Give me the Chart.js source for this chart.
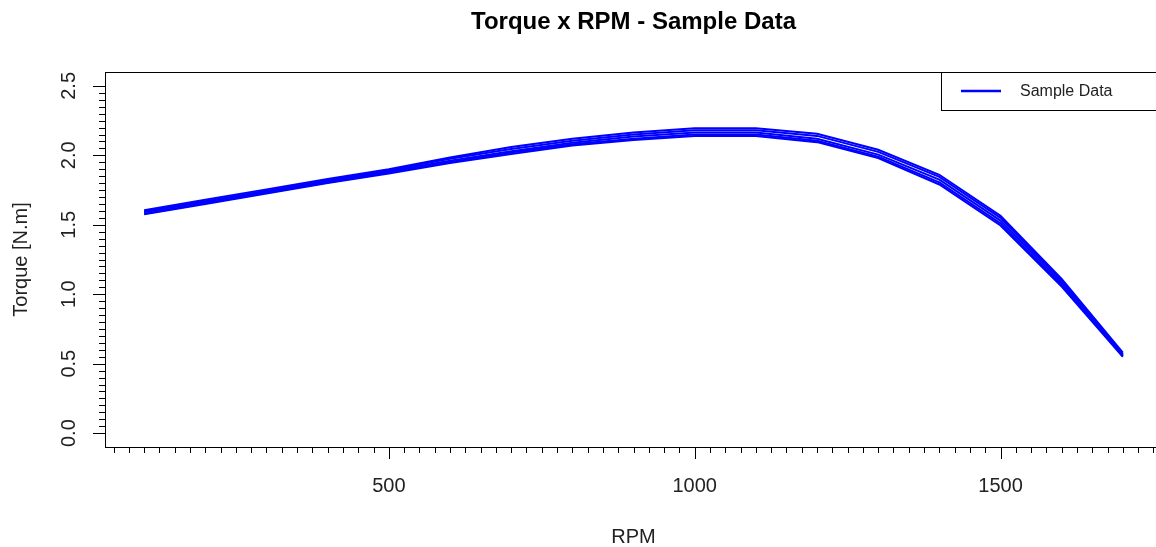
<!DOCTYPE html>
<html>
<head>
<meta charset="utf-8">
<script src="https://cdn.jsdelivr.net/npm/chart.js@4/dist/chart.umd.min.js"></script>
<style>
  html, body { margin: 0; padding: 0; background: #fff; overflow: hidden; }
  #wrap { width: 1156px; height: 547px; overflow: hidden; }
</style>
</head>
<body>
<div id="wrap"><canvas id="torqueChart" width="1170" height="547"></canvas></div>
<script>
const rpm = [100, 200, 300, 400, 500, 600, 700, 800, 900, 1000, 1100, 1200, 1300, 1400, 1500, 1600, 1700];
const run1 = [1.605, 1.680, 1.755, 1.830, 1.900, 1.985, 2.060, 2.120, 2.165, 2.195, 2.195, 2.155, 2.040, 1.860, 1.565, 1.110, 0.580];
const run2 = [1.595, 1.670, 1.745, 1.820, 1.893, 1.975, 2.045, 2.105, 2.150, 2.180, 2.180, 2.140, 2.025, 1.845, 1.550, 1.095, 0.570];
const run3 = [1.590, 1.665, 1.740, 1.812, 1.886, 1.962, 2.030, 2.090, 2.135, 2.165, 2.165, 2.120, 2.005, 1.825, 1.530, 1.080, 0.560];
const run4 = [1.580, 1.655, 1.730, 1.805, 1.878, 1.952, 2.020, 2.080, 2.120, 2.150, 2.150, 2.105, 1.990, 1.805, 1.510, 1.065, 0.555];
const run5 = [1.575, 1.650, 1.725, 1.800, 1.870, 1.945, 2.010, 2.070, 2.110, 2.140, 2.140, 2.095, 1.980, 1.790, 1.495, 1.055, 0.550];
const runs = [run1, run2, run3, run4, run5];

const xMajorTicks = [500, 1000, 1500];
const yMajorTicks = [0, 0.5, 1, 1.5, 2, 2.5];
const xMinorTicks = [];
for (let v = 50; v <= 1750; v += 25) xMinorTicks.push(v);
const yMinorTicks = [];
for (let i = 0; i <= 50; i++) yMinorTicks.push(i * 0.05);

const FONT = '"Liberation Sans", Arial, sans-serif';

// R style box, axes, labels and legend
const rAxes = {
    id: "rAxes",
    afterDraw(chart) {
        const ctx = chart.ctx, a = chart.chartArea;
        const xs = chart.scales.x, ys = chart.scales.y;
        ctx.save();
        ctx.strokeStyle = "#000";
        ctx.fillStyle = "#000";
        ctx.lineWidth = 1;
        ctx.strokeRect(a.left + 0.5, a.top + 0.5, a.right - a.left, a.bottom - a.top);

        // x ticks
        ctx.beginPath();
        xMinorTicks.forEach(v => {
            const px = Math.round(xs.getPixelForValue(v)) + 0.5;
            const len = xMajorTicks.includes(v) ? 12 : 6;
            ctx.moveTo(px, a.bottom); ctx.lineTo(px, a.bottom + len);
        });
        // y ticks
        yMinorTicks.forEach((v, i) => {
            const py = Math.round(ys.getPixelForValue(v)) + 0.5;
            const len = i % 10 === 0 ? 12 : 6;
            ctx.moveTo(a.left, py); ctx.lineTo(a.left - len, py);
        });
        ctx.stroke();

        ctx.fillStyle = "#222";
        ctx.font = "20px " + FONT;
        ctx.textAlign = "center";
        ctx.textBaseline = "middle";
        xMajorTicks.forEach(v => ctx.fillText(String(v), xs.getPixelForValue(v), 486));
        yMajorTicks.forEach(v => {
            ctx.save();
            ctx.translate(69, ys.getPixelForValue(v));
            ctx.rotate(-Math.PI / 2);
            ctx.fillText(v.toFixed(1), 0, 0);
            ctx.restore();
        });

        const cx = (a.left + a.right) / 2;
        ctx.fillText("RPM", cx, 537);
        ctx.save();
        ctx.translate(21, (a.top + a.bottom) / 2);
        ctx.rotate(-Math.PI / 2);
        ctx.fillText("Torque [N.m]", 0, 0);
        ctx.restore();

        ctx.fillStyle = "#000";
        ctx.font = "bold 24px " + FONT;
        ctx.fillText("Torque x RPM - Sample Data", cx, 22);

        // legend, top right
        ctx.strokeStyle = "#000";
        ctx.strokeRect(941.5, a.top + 0.5, a.right - 941, 38);
        ctx.strokeStyle = "#0000ff";
        ctx.lineWidth = 2.5;
        ctx.beginPath();
        ctx.moveTo(961, a.top + 19); ctx.lineTo(1001, a.top + 19);
        ctx.stroke();
        ctx.fillStyle = "#222";
        ctx.font = "16px " + FONT;
        ctx.textAlign = "left";
        ctx.fillText(chart.data.datasets[0].label, 1020, a.top + 20);
        ctx.restore();
    }
};

new Chart(document.getElementById("torqueChart").getContext("2d"), {
    type: "line",
    data: {
        datasets: runs.map((r, i) => ({
            label: "Sample Data",
            data: rpm.map((x, j) => ({ x: x, y: r[j] })),
            borderColor: "#0000ff",
            borderWidth: 2,
            pointRadius: 0,
            fill: false,
            tension: 0
        }))
    },
    options: {
        responsive: false,
        animation: false,
        layout: { padding: { left: 105, top: 72, right: 8, bottom: 100 } },
        plugins: { legend: { display: false }, title: { display: false }, tooltip: { enabled: false } },
        scales: {
            x: { type: "linear", min: 36, max: 1764, display: false },
            y: { type: "linear", min: -0.1, max: 2.6, display: false }
        }
    },
    plugins: [rAxes]
});
</script>
</body>
</html>
